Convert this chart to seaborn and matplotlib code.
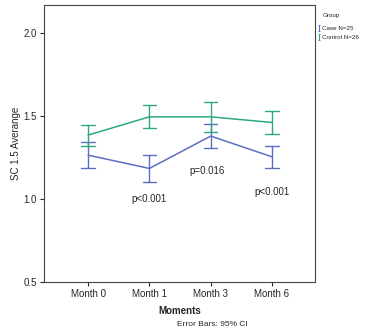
import numpy as np
import pandas as pd
import matplotlib
matplotlib.use("Agg")
import matplotlib.pyplot as plt
from matplotlib.path import Path
from matplotlib.lines import Line2D
import seaborn as sns

# Mean and 95% CI bounds of SC 1.5 per group and moment
moments = ["Month 0", "Month 1", "Month 3", "Month 6"]
groups = ["Case N=25", "Control N=26"]
case_mean = [1.265, 1.185, 1.380, 1.255]
case_lo = [1.185, 1.104, 1.311, 1.189]
case_hi = [1.345, 1.265, 1.452, 1.320]
ctrl_mean = [1.386, 1.496, 1.496, 1.462]
ctrl_lo = [1.320, 1.426, 1.405, 1.392]
ctrl_hi = [1.448, 1.566, 1.583, 1.532]
p_labels = ["p<0.001", "p=0.016", "p<0.001"]
p_moments = ["Month 1", "Month 3", "Month 6"]
p_values_y = [1.00, 1.17, 1.045]

colors = {"Case N=25": "#5c6ec2", "Control N=26": "#2ea97c"}

# Long table: lower bound, mean and upper bound for each cell; the median
# gives the mean and the full interval gives the CI
rows = []
for g, lo, m, hi in [(groups[0], case_lo, case_mean, case_hi),
                     (groups[1], ctrl_lo, ctrl_mean, ctrl_hi)]:
    for i, mo in enumerate(moments):
        for v in (lo[i], m[i], hi[i]):
            rows.append({"Group": g, "Moments": mo, "value": v})
df = pd.DataFrame(rows)

sns.set_style("white")
plt.rcParams["font.family"] = ["Liberation Sans", "DejaVu Sans"]

fig = plt.figure(figsize=(3.79, 3.35), dpi=100)
ax = fig.add_axes([0.116, 0.158, 0.715, 0.827])

sns.pointplot(data=df, x="Moments", y="value", hue="Group", order=moments,
              hue_order=groups, palette=colors, estimator="median",
              errorbar=("pi", 100), capsize=0.22, markers="", linewidth=1.1,
              err_kws={"linewidth": 1.0}, dodge=False, legend=False, ax=ax)

for lab, mo, yv in zip(p_labels, p_moments, p_values_y):
    xo = -0.06 if lab == "p=0.016" else 0.0
    ax.text(moments.index(mo) + xo, yv, lab, ha="center", va="center",
            fontsize=7)

ax.set_ylim(0.5, 2.17)
ax.set_xlim(-0.72, 3.70)
ax.set_yticks([0.5, 1.0, 1.5, 2.0])
ax.set_yticklabels(["0.5", "1.0", "1.5", "2.0"])
ax.tick_params(axis="both", labelsize=7, length=3, width=0.8, direction="out",
               left=True, bottom=True, pad=2)
ax.set_ylabel("SC 1.5 Averange", fontsize=7, labelpad=2)
ax.set_xlabel("Moments", fontsize=7, fontweight="bold", labelpad=5)
for s in ax.spines.values():
    s.set_color("#444444")
    s.set_linewidth(0.8)

# Legend with error-bar glyphs
ibar = Path([(-0.5, -1), (0.5, -1), (0, -1), (0, 1), (-0.5, 1), (0.5, 1)],
            [Path.MOVETO, Path.LINETO, Path.MOVETO, Path.LINETO,
             Path.MOVETO, Path.LINETO])
handles = [Line2D([], [], linestyle="none", marker=ibar, markersize=4,
                  markeredgewidth=0.7, color=colors[g], markerfacecolor="none")
           for g in groups]
leg = fig.legend(handles, groups, title="Group", loc="upper left",
                 bbox_to_anchor=(0.838, 0.960), frameon=False, fontsize=4.5,
                 title_fontsize=4.5, handlelength=0.4, handletextpad=0.25,
                 labelspacing=0.6, borderaxespad=0, borderpad=0)
leg._legend_box.align = "left"
leg._legend_box.sep = 5
leg._legend_title_box._text.set_position((5, 0))

fig.text(0.56, 0.03, "Error Bars: 95% CI", ha="center", va="center", fontsize=6)

fig.savefig("out.png", dpi=100)
